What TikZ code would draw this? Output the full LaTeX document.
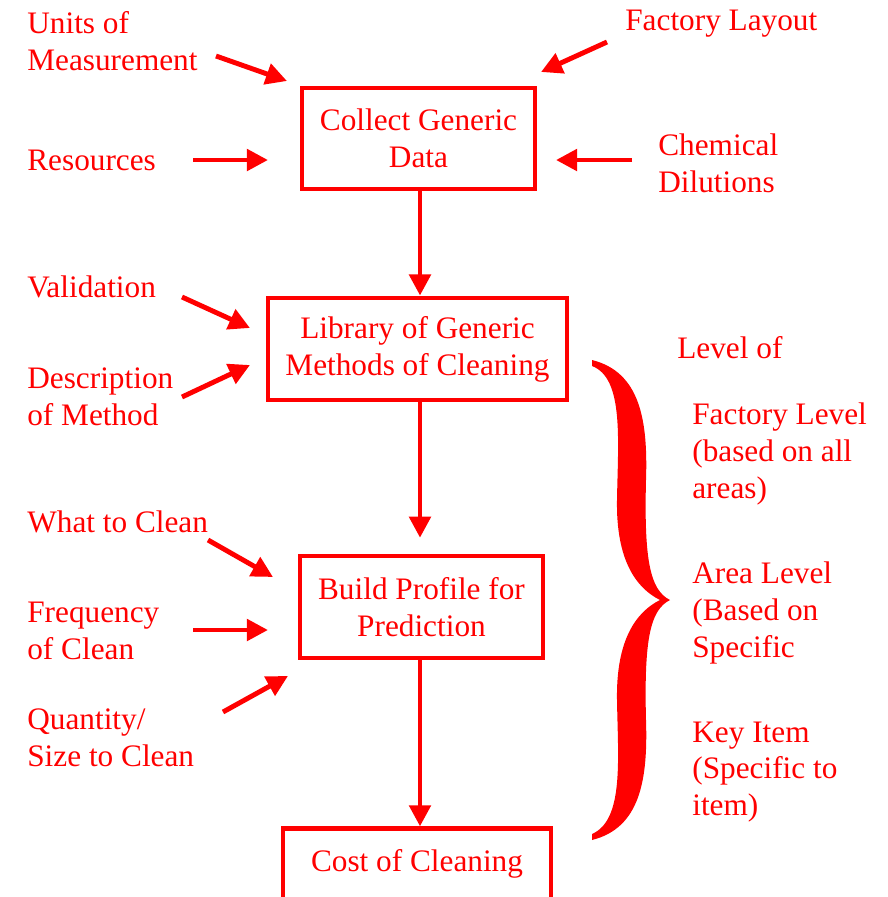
\documentclass[tikz,border=0pt]{standalone}
\usepackage{fontspec}
\setmainfont{Liberation Serif}
\usepackage{tikz}
\usetikzlibrary{arrows.meta,positioning}
\definecolor{Ink}{HTML}{FF0000}
\tikzset{
  stage/.style={draw=Ink,line width=2.8pt,align=center,inner sep=0pt,text=Ink,font=\fontsize{17.8}{21}\selectfont},
  label/.style={anchor=west,align=left,inner sep=0pt,text=Ink,font=\fontsize{17.8}{21}\selectfont},
  arrow/.style={-{Triangle[length=12pt,width=12pt]},line width=2.8pt,draw=Ink}
}
\begin{document}
\begin{tikzpicture}[x=0.02cm,y=-0.02cm]
  \clip (0,0) rectangle (888,897);

  % main stages
  \node[stage,minimum width=46.6mm,minimum height=20.2mm] (collect) at (418.5,138.5) {Collect Generic\\Data};
  \node[stage,minimum width=59.8mm,minimum height=20.4mm] (library) at (417.5,349) {Library of Generic\\Methods of Cleaning};
  \node[stage,minimum width=48.6mm,minimum height=20.4mm] (profile) at (421.5,607) {Build Profile for\\Prediction};
  \node[stage,minimum width=53.6mm,text height=13pt,text depth=30pt,inner ysep=11pt,anchor=base] (cost) at (417,871) {Cost of Cleaning};

  \coordinate (spine) at (420,0);
  \draw[arrow] (collect.south -| spine) -- (library.north -| spine);
  \draw[arrow,shorten >=9pt] (library.south -| spine) -- (profile.north -| spine);
  \draw[arrow] (profile.south -| spine) -- (cost.north -| spine);

  % inputs
  \node[label] (units) at (27,41) {Units of\\Measurement};
  \node[label] (resources) at (27,160) {Resources};
  \node[label] (validation) at (27,287) {Validation};
  \node[label] (description) at (27,397) {Description\\of Method};
  \node[label] (what) at (27,522) {What to Clean};
  \node[label] (frequency) at (27,631) {Frequency\\of Clean};
  \node[label] (quantity) at (27,738) {Quantity/\\Size to Clean};
  \node[label] (layout) at (625,24) {Factory Layout};
  \node[label] (chemical) at (658,163) {Chemical\\Dilutions};

  \coordinate (units-s) at (216,56);      \coordinate (units-e) at (287,81);
  \coordinate (layout-s) at (607,42);     \coordinate (layout-e) at (541,72);
  \coordinate (resources-s) at (193,160); \coordinate (resources-e) at (268,160);
  \coordinate (chemical-s) at (632,160);  \coordinate (chemical-e) at (556,160);
  \coordinate (validation-s) at (182,297); \coordinate (validation-e) at (250,328);
  \coordinate (description-s) at (182,397); \coordinate (description-e) at (250,365);
  \coordinate (what-s) at (208,540);      \coordinate (what-e) at (273,577);
  \coordinate (frequency-s) at (193,630); \coordinate (frequency-e) at (268,630);
  \coordinate (quantity-s) at (223,712);  \coordinate (quantity-e) at (288,676);

  \foreach \n in {units,layout,resources,chemical,validation,description,what,frequency,quantity}{
    \draw[arrow] (\n-s) -- (\n-e);
  }

  % levels
  \node[label] (levelof) at (677,348) {Level of};
  \node[label] (factory) at (692,454) {Factory Level\\(based on all\\areas)};
  \node[label] (area) at (692,613) {Area Level\\(Based on\\Specific};
  \node[label] (keyitem) at (692,772) {Key Item\\(Specific to\\item)};

  \fill[Ink] (592,360) .. controls (640,372) and (648,420) .. (646,480)
    .. controls (644,560) and (650,590) .. (670,600)
    .. controls (650,610) and (644,640) .. (646,720)
    .. controls (648,780) and (640,828) .. (592,840)
    -- (592,834) .. controls (624,820) and (618,760) .. (617,700)
    .. controls (616,640) and (636,612) .. (660,600)
    .. controls (636,588) and (616,560) .. (617,500)
    .. controls (618,440) and (624,378) .. (592,366) -- cycle;
\end{tikzpicture}
\end{document}
